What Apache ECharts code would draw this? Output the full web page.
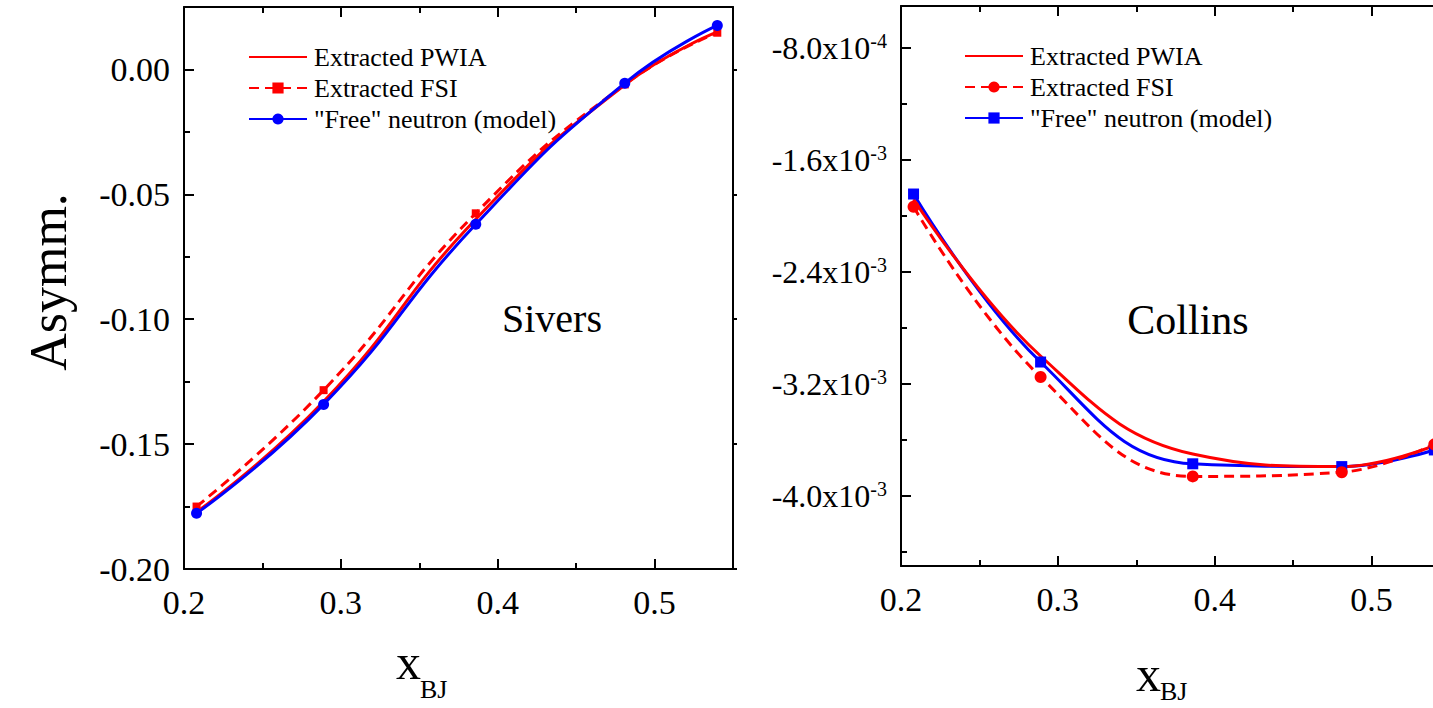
<!DOCTYPE html>
<html>
<head>
<meta charset="utf-8">
<title>Sivers and Collins asymmetries</title>
<script src="https://cdn.jsdelivr.net/npm/echarts@6/dist/echarts.min.js"></script>
<style>
  html, body { margin: 0; padding: 0; background: #fff; }
  #chart { width: 1433px; height: 708px; }
</style>
</head>
<body>
<div id="chart"></div>
<script>
// x_BJ bins shared by both panels
const xBJ = [0.208, 0.289, 0.386, 0.481, 0.540];

// Sivers asymmetry
const sivPWIA = [-0.1772, -0.1330, -0.0600, -0.0062, 0.0150];
const sivFSI  = [-0.1750, -0.1284, -0.0576, -0.0060, 0.0147];
const sivFree = [-0.1777, -0.1341, -0.0620, -0.0055, 0.0176];

// Collins asymmetry
const colPWIA = [-0.00188, -0.00300, -0.00370, -0.00379, -0.00364];
const colFSI  = [-0.001934, -0.00315, -0.00386, -0.00383, -0.003631];
const colFree = [-0.001843, -0.003043, -0.00377, -0.00379, -0.003671];

// Legend entries (same three curves in each panel)
const seriesNames = ['Extracted PWIA', 'Extracted FSI', '"Free" neutron (model)'];

// Tick positions
const xMajor = [0.2, 0.3, 0.4, 0.5];
const xMinor = [0.25, 0.35, 0.45, 0.55];
const sivMajor = [-0.2, -0.15, -0.1, -0.05, 0];
const sivMinor = [-0.175, -0.125, -0.075, -0.025];
const colMajor = [-0.004, -0.0032, -0.0024, -0.0016, -0.0008];
const colMinor = [-0.0044, -0.0036, -0.0028, -0.002, -0.0012];

const FONT = "'Liberation Serif', 'DejaVu Serif', 'Times New Roman', serif";
const RED = '#ff0000';
const BLUE = '#0000ff';
const AXIS = '#000';

const pairs = ys => xBJ.map((x, i) => [x, ys[i]]);
// each panel gets its own series ids; the legend shows the plain name
const tag = (panel, name) => panel + '::' + name;
const untag = name => name.split('::')[1];

function xAxes(grid) {
  const base = { type: 'value', gridIndex: grid, min: 0.2, max: 0.55, splitLine: { show: false } };
  const line = { show: true, onZero: false, lineStyle: { color: AXIS, width: 2 } };
  const noLine = { show: false, onZero: false };
  const tick = (vals, len) => ({ show: true, inside: true, length: len, customValues: vals, lineStyle: { color: AXIS, width: 2 } });
  return [
    Object.assign({}, base, {
      position: 'bottom', axisLine: line, axisTick: tick(xMajor, 10),
      axisLabel: { show: true, customValues: xMajor, margin: 16, color: '#000', fontFamily: FONT, fontSize: 34,
        formatter: v => v.toFixed(1) }
    }),
    Object.assign({}, base, { position: 'bottom', axisLine: noLine, axisTick: tick(xMinor, 6), axisLabel: { show: false } }),
    Object.assign({}, base, { position: 'top', axisLine: line, axisTick: tick(xMajor, 10), axisLabel: { show: false } }),
    Object.assign({}, base, { position: 'top', axisLine: noLine, axisTick: tick(xMinor, 6), axisLabel: { show: false } })
  ];
}

function yAxes(grid, min, max, major, minor, labelOpt, rightTicks) {
  const base = { type: 'value', gridIndex: grid, min: min, max: max, splitLine: { show: false } };
  const line = { show: true, onZero: false, lineStyle: { color: AXIS, width: 2 } };
  return [
    Object.assign({}, base, {
      position: 'left', axisLine: line,
      axisTick: { show: true, inside: true, length: 10, customValues: major, lineStyle: { color: AXIS, width: 2 } },
      axisLabel: Object.assign({ show: true, customValues: major, color: '#000', fontFamily: FONT }, labelOpt)
    }),
    Object.assign({}, base, {
      position: 'left', axisLine: { show: false, onZero: false },
      axisTick: { show: true, inside: true, length: 6, customValues: minor, lineStyle: { color: AXIS, width: 2 } },
      axisLabel: { show: false }
    }),
    Object.assign({}, base, {
      position: 'right', axisLine: line,
      axisTick: { show: rightTicks, inside: false, length: 4, customValues: major, lineStyle: { color: AXIS, width: 2 } },
      axisLabel: { show: false }
    })
  ];
}

const chart = echarts.init(document.getElementById('chart'), null, { renderer: 'svg' });

function legendFor(panel, left, top) {
  return {
    orient: 'vertical',
    left: left,
    top: top,
    padding: 0,
    itemWidth: 58,
    itemHeight: 14,
    itemGap: 5,
    selectedMode: false,
    formatter: untag,
    textStyle: { color: '#000', fontFamily: FONT, fontSize: 26, padding: [0, 0, 0, 2] },
    data: [
      // solid curve only, no marker
      { name: tag(panel, seriesNames[0]), itemStyle: { opacity: 0 } },
      { name: tag(panel, seriesNames[1]) },
      { name: tag(panel, seriesNames[2]) }
    ]
  };
}

const collinsLabel = {
  margin: 14,
  formatter: v => {
    const e = Math.floor(Math.log10(Math.abs(v)) + 1e-9);
    const m = (v / Math.pow(10, e)).toFixed(1);
    return '{m|' + m + 'x10}{e|' + e + '}';
  },
  rich: {
    m: { fontFamily: FONT, fontSize: 32, color: '#000', lineHeight: 34 },
    e: { fontFamily: FONT, fontSize: 20, color: '#000', lineHeight: 20, verticalAlign: 'top' }
  }
};

const COL_SMOOTH = 0.42;

const option = {
  backgroundColor: '#fff',
  animation: false,
  grid: [
    { left: 184, top: 7, width: 549, height: 562, outerBoundsMode: 'none', containLabel: false },
    { left: 901, top: 6, width: 549, height: 560, outerBoundsMode: 'none', containLabel: false }
  ],
  xAxis: xAxes(0).concat(xAxes(1)),
  yAxis: yAxes(0, -0.2, 0.025, sivMajor, sivMinor,
    { margin: 14, fontSize: 34, formatter: v => (Math.abs(v) < 1e-9 ? '0.00' : v.toFixed(2)) }, true)
    .concat(yAxes(1, -0.0045, -0.0005, colMajor, colMinor, collinsLabel, false)),
  legend: [
    legendFor('siv', 248, 44),
    legendFor('col', 964, 43)
  ],
  series: [
    // Sivers panel
    { name: tag('siv', seriesNames[0]), type: 'line', xAxisIndex: 0, yAxisIndex: 0, data: pairs(sivPWIA), smooth: true,
      symbol: 'none', lineStyle: { color: RED, width: 3 }, itemStyle: { color: RED } },
    { name: tag('siv', seriesNames[1]), type: 'line', xAxisIndex: 0, yAxisIndex: 0, data: pairs(sivFSI), smooth: true,
      symbol: 'rect', symbolSize: 8, lineStyle: { color: RED, width: 3, type: [10, 6] }, itemStyle: { color: RED } },
    { name: tag('siv', seriesNames[2]), type: 'line', xAxisIndex: 0, yAxisIndex: 0, data: pairs(sivFree), smooth: true,
      symbol: 'circle', symbolSize: 11, lineStyle: { color: BLUE, width: 3 }, itemStyle: { color: BLUE } },
    // Collins panel
    { name: tag('col', seriesNames[2]), type: 'line', xAxisIndex: 4, yAxisIndex: 3, data: pairs(colFree), smooth: COL_SMOOTH,
      symbol: 'rect', symbolSize: 11, lineStyle: { color: BLUE, width: 3 }, itemStyle: { color: BLUE } },
    { name: tag('col', seriesNames[1]), type: 'line', xAxisIndex: 4, yAxisIndex: 3, data: pairs(colFSI), smooth: COL_SMOOTH,
      symbol: 'circle', symbolSize: 12, lineStyle: { color: RED, width: 3, type: [10, 6] }, itemStyle: { color: RED } },
    { name: tag('col', seriesNames[0]), type: 'line', xAxisIndex: 4, yAxisIndex: 3, data: pairs(colPWIA), smooth: COL_SMOOTH,
      symbol: 'none', lineStyle: { color: RED, width: 3 }, itemStyle: { color: RED } }
  ],
  graphic: [
    { type: 'text', x: 48, y: 282, rotation: Math.PI / 2,
      style: { text: 'Asymm.', font: '52px ' + FONT, fill: '#000', align: 'center', verticalAlign: 'middle' } },
    { type: 'text', x: 552, y: 318,
      style: { text: 'Sivers', font: '40px ' + FONT, fill: '#000', align: 'center', verticalAlign: 'middle' } },
    { type: 'text', x: 1188, y: 320,
      style: { text: 'Collins', font: '42px ' + FONT, fill: '#000', align: 'center', verticalAlign: 'middle' } },
    { type: 'text', x: 396, y: 662,
      style: { text: 'x', font: '50px ' + FONT, fill: '#000', align: 'left', verticalAlign: 'middle' } },
    { type: 'text', x: 420, y: 689,
      style: { text: 'BJ', font: '26px ' + FONT, fill: '#000', align: 'left', verticalAlign: 'middle' } },
    { type: 'text', x: 1136, y: 674,
      style: { text: 'x', font: '50px ' + FONT, fill: '#000', align: 'left', verticalAlign: 'middle' } },
    { type: 'text', x: 1160, y: 691,
      style: { text: 'BJ', font: '26px ' + FONT, fill: '#000', align: 'left', verticalAlign: 'middle' } }
  ]
};

chart.setOption(option);
</script>
</body>
</html>
